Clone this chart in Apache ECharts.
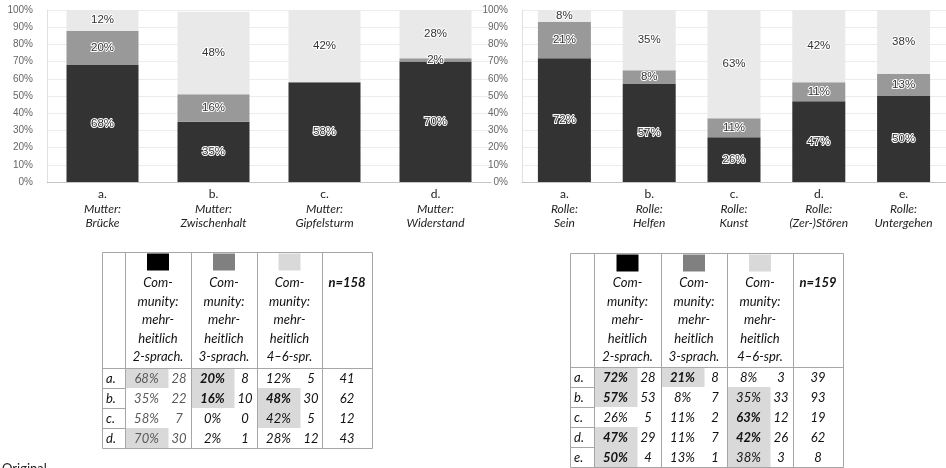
<!DOCTYPE html>
<html><head><meta charset="utf-8">
<script src="https://cdn.jsdelivr.net/npm/echarts@6/dist/echarts.min.js"></script>
<style>html,body{margin:0;padding:0;background:#fff;overflow:hidden}#c{width:946px;height:468px}</style>
</head><body><div id="c"></div><script>
// ---------- data ----------
const leftLetters = ['a.', 'b.', 'c.', 'd.'];
const leftLine1 = ['Mutter:', 'Mutter:', 'Mutter:', 'Mutter:'];
const leftLine2 = ['Brücke', 'Zwischenhalt', 'Gipfelsturm', 'Widerstand'];
const left2 = [68, 35, 58, 70];
const left3 = [20, 16, 0, 2];
const left46 = [12, 48, 42, 28];
const leftCount2 = [28, 22, 7, 30];
const leftCount3 = [8, 10, 0, 1];
const leftCount46 = [5, 30, 5, 12];
const leftN = [41, 62, 12, 43];
const leftNLabel = 'n=158';
const leftHighlight = [[0,0],[0,1],[1,1],[1,2],[2,2],[3,0]];
const leftBold = [[0,1],[1,1],[1,2]];

const rightLetters = ['a.', 'b.', 'c.', 'd.', 'e.'];
const rightLine1 = ['Rolle:', 'Rolle:', 'Rolle:', 'Rolle:', 'Rolle:'];
const rightLine2 = ['Sein', 'Helfen', 'Kunst', '(Zer-)Stören', 'Untergehen'];
const right2 = [72, 57, 26, 47, 50];
const right3 = [21, 8, 11, 11, 13];
const right46 = [8, 35, 63, 42, 38];
const rightCount2 = [28, 53, 5, 29, 4];
const rightCount3 = [8, 7, 2, 7, 1];
const rightCount46 = [3, 33, 12, 26, 3];
const rightN = [39, 93, 19, 62, 8];
const rightNLabel = 'n=159';
const rightHighlight = [[0,0],[0,1],[1,0],[1,2],[2,2],[3,0],[3,2],[4,0],[4,2]];
const rightBold = [[0,0],[0,1],[1,0],[2,2],[3,0],[3,2],[4,0]];

const groupSuffix = ['2-sprach.', '3-sprach.', '4–6-spr.'];
const headerLines = ['Com-', 'munity:', 'mehr-', 'heitlich'];
const yTicks = [0,10,20,30,40,50,60,70,80,90,100];
const footText = 'Original';

// ---------- styles ----------
const barColors = ['#333333', '#999999', '#e9e9e9'];
const swatchColors = ['#000000', '#808080', '#d9d9d9'];
const tableFont = 'Lato, "Open Sans", sans-serif';

function cats(letters, l1, l2) { return letters.map((l, i) => l + '\n' + l1[i] + '\n' + l2[i]); }

function labelFmt(v) {
  const p = v.split('\n');
  return '{n|' + p[0] + '}\n{i|' + p[1] + '}\n{i|' + p[2] + '}';
}

function xAxis(gi, data) {
  return {
    type: 'category', gridIndex: gi, data: data,
    axisLine: { lineStyle: { color: '#c4c4c4' } }, axisTick: { show: false },
    axisLabel: {
      margin: 5, formatter: labelFmt, interval: 0,
      rich: {
        n: { fontFamily: tableFont, fontSize: 12, color: '#222', lineHeight: 14.5 },
        i: { fontFamily: tableFont, fontSize: 12, fontStyle: 'italic', color: '#222', lineHeight: 14.5 }
      }
    }
  };
}
function yAxis(gi) {
  return {
    type: 'value', gridIndex: gi, min: yTicks[0], max: yTicks[yTicks.length - 1],
    interval: yTicks[1] - yTicks[0],
    axisLine: { show: true, lineStyle: { color: '#e0e0e0' } }, axisTick: { show: false },
    splitLine: { lineStyle: { color: '#ececec' } },
    axisLabel: { formatter: '{value}%', margin: 14, color: '#666', fontSize: 10, fontFamily: '"Liberation Sans", Arial, sans-serif' }
  };
}
function barSeries(gi, vals, ci, width) {
  return {
    type: 'bar', xAxisIndex: gi, yAxisIndex: gi, stack: 's' + gi, data: vals, barWidth: width,
    itemStyle: { color: barColors[ci] },
    label: {
      show: true, position: 'inside',
      formatter: p => (p.value > 0 ? p.value + '%' : ''),
      color: '#333', fontSize: 11.5, fontFamily: '"Liberation Sans", Arial, sans-serif',
      textBorderColor: '#fff', textBorderWidth: 2
    }
  };
}

// ---------- tables ----------
function has(list, r, c) { return list.some(e => e[0] === r && e[1] === c); }

function buildTable(cfg) {
  const els = [];
  const cols = cfg.cols, top = cfg.top, hb = cfg.headBottom, rh = cfg.rowH;
  const nRows = cfg.letters.length;
  const bottom = hb + nRows * rh;
  const lineCol = '#a6a6a6';
  const pctW = 43;
  cfg.highlight.forEach(([r, c]) => {
    els.push({ type: 'rect', silent: true, shape: { x: cols[c + 1] + 0.5, y: hb + r * rh, width: pctW, height: rh },
      style: { fill: '#d9d9d9' } });
  });
  els.push({ type: 'rect', silent: true, shape: { x: cols[0] + 0.5, y: top + 0.5, width: cols[cols.length - 1] - cols[0], height: bottom - top },
    style: { fill: 'none', stroke: lineCol, lineWidth: 1 } });
  for (let k = 1; k < cols.length - 1; k++) {
    els.push({ type: 'line', silent: true, shape: { x1: cols[k] + 0.5, y1: top, x2: cols[k] + 0.5, y2: bottom },
      style: { stroke: lineCol, lineWidth: 1 } });
  }
  els.push({ type: 'line', silent: true, shape: { x1: cols[0], y1: hb + 0.5, x2: cols[cols.length - 1], y2: hb + 0.5 },
    style: { stroke: lineCol, lineWidth: 1 } });
  for (let r = 1; r < nRows; r++) {
    els.push({ type: 'line', silent: true, shape: { x1: cols[0], y1: hb + r * rh + 0.5, x2: cols[1], y2: hb + r * rh + 0.5 },
      style: { stroke: lineCol, lineWidth: 1 } });
  }
  for (let c = 0; c < 3; c++) {
    const cx = (cols[c + 1] + cols[c + 2]) / 2;
    els.push({ type: 'rect', silent: true, shape: { x: cx - 11, y: top + 1.5, width: 22, height: 17 }, style: { fill: swatchColors[c] } });
    const lines = headerLines.concat([groupSuffix[c]]);
    const ys = [283, 301.5, 320, 338.5, 357];
    lines.forEach((t, k) => {
      els.push({ type: 'text', silent: true, x: cx, y: ys[k] + cfg.dy,
        style: { text: t, font: 'italic 13px ' + tableFont, fill: '#111', textAlign: 'center', textVerticalAlign: 'middle', align: 'center', verticalAlign: 'middle' } });
    });
  }
  const ncx = (cols[4] + cols[5]) / 2;
  els.push({ type: 'text', silent: true, x: ncx, y: 283 + cfg.dy,
    style: { text: cfg.nLabel, font: 'italic bold 13px ' + tableFont, fill: '#111', textAlign: 'center', textVerticalAlign: 'middle', align: 'center', verticalAlign: 'middle' } });
  for (let r = 0; r < nRows; r++) {
    const cy = hb + r * rh + rh / 2 + 0.5;
    els.push({ type: 'text', silent: true, x: cols[0] + 4, y: cy,
      style: { text: cfg.letters[r], font: 'italic 13px ' + tableFont, fill: '#111', textAlign: 'left', textVerticalAlign: 'middle', align: 'left', verticalAlign: 'middle' } });
    for (let c = 0; c < 3; c++) {
      const bold = has(cfg.bold, r, c);
      const col = (cfg.grayCol === c) ? '#595959' : '#111';
      els.push({ type: 'text', silent: true, x: cols[c + 1] + 21.5, y: cy,
        style: { text: cfg.pcts[c][r] + '%', font: 'italic ' + (bold ? 'bold ' : '') + '13px ' + tableFont, fill: col, textAlign: 'center', textVerticalAlign: 'middle', align: 'center', verticalAlign: 'middle' } });
      els.push({ type: 'text', silent: true, x: cols[c + 1] + 54, y: cy,
        style: { text: String(cfg.counts[c][r]), font: 'italic 13px ' + tableFont, fill: col, textAlign: 'center', textVerticalAlign: 'middle', align: 'center', verticalAlign: 'middle' } });
    }
    els.push({ type: 'text', silent: true, x: ncx, y: cy,
      style: { text: String(cfg.n[r]), font: 'italic 13px ' + tableFont, fill: '#111', textAlign: 'center', textVerticalAlign: 'middle', align: 'center', verticalAlign: 'middle' } });
  }
  return els;
}

const leftTable = buildTable({
  cols: [102, 125, 191, 257, 322, 372], top: 252, headBottom: 368, rowH: 20, dy: 0,
  letters: leftLetters, pcts: [left2, left3, left46], counts: [leftCount2, leftCount3, leftCount46],
  n: leftN, nLabel: leftNLabel, highlight: leftHighlight, bold: leftBold, grayCol: 0
});
const rightTable = buildTable({
  cols: [570, 594, 661, 727, 793, 843], top: 253, headBottom: 367, rowH: 20, dy: 0,
  letters: rightLetters, pcts: [right2, right3, right46], counts: [rightCount2, rightCount3, rightCount46],
  n: rightN, nLabel: rightNLabel, highlight: rightHighlight, bold: rightBold, grayCol: -1
});

const chart = echarts.init(document.getElementById('c'), null, { renderer: 'canvas' });
chart.setOption({
  animation: false,
  backgroundColor: '#fff',
  grid: [
    { left: 47, right: 455, top: 10, bottom: 286 },
    { left: 522, right: -14, top: 10, bottom: 286 }
  ],
  xAxis: [xAxis(0, cats(leftLetters, leftLine1, leftLine2)), xAxis(1, cats(rightLetters, rightLine1, rightLine2))],
  yAxis: [yAxis(0), yAxis(1)],
  series: [
    barSeries(0, left2, 0, 72), barSeries(0, left3, 1, 72), barSeries(0, left46, 2, 72),
    barSeries(1, right2, 0, 53), barSeries(1, right3, 1, 53), barSeries(1, right46, 2, 53)
  ],
  graphic: leftTable.concat(rightTable).concat([
    { type: 'text', silent: true, x: 2, y: 462,
      style: { text: footText, font: '13px ' + tableFont, fill: '#222', textAlign: 'left', textVerticalAlign: 'top', align: 'left', verticalAlign: 'top' } }
  ])
});
</script></body></html>
